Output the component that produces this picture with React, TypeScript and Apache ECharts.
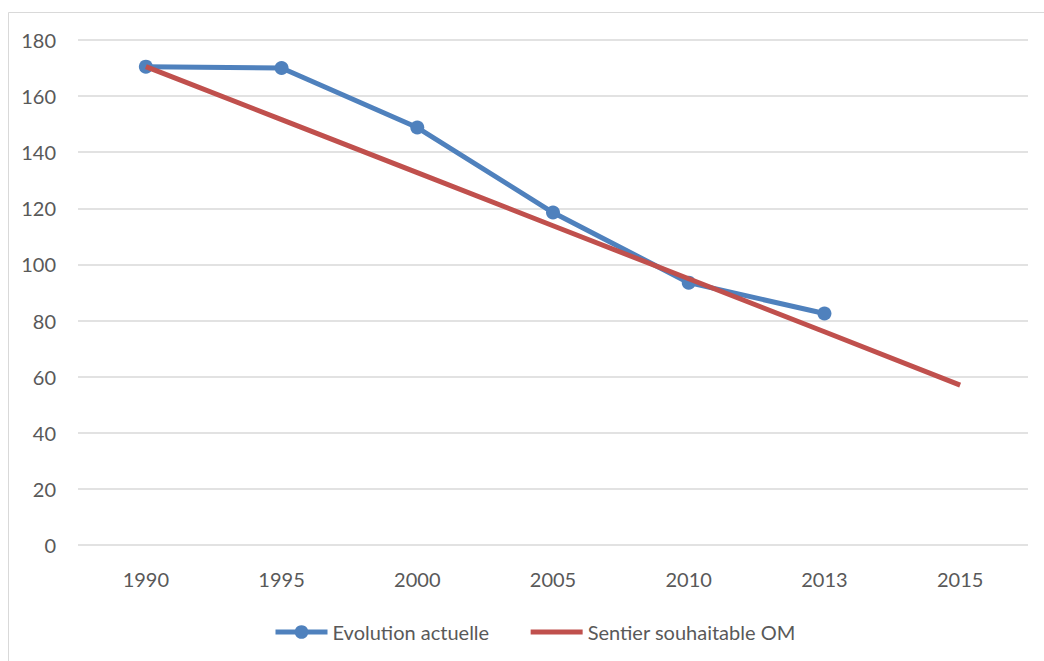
import React, { useEffect, useRef } from "react";
import * as echarts from "echarts";

const years = ["1990", "1995", "2000", "2005", "2010", "2013", "2015"];
const evolutionActuelle = [170.5, 170, 148.8, 118.5, 93.5, 82.5, null];
const sentierSouhaitable = [170.5, 151.6, 132.7, 113.8, 94.9, 76, 57];
const yTicks = { min: 0, max: 180, interval: 20 };

const FONT = "Lato, 'Open Sans', sans-serif";
const BLUE = "#4f81bd";
const RED = "#c0504d";

export default function App() {
  const ref = useRef<HTMLDivElement>(null);
  useEffect(() => {
    if (!ref.current) return;
    const chart = echarts.init(ref.current, null, { renderer: "svg" });
    chart.setOption({
      animation: false,
      backgroundColor: "#ffffff",
      graphic: [
        {
          type: "rect",
          shape: { x: 8.5, y: 12.5, width: 1100, height: 700 },
          style: { fill: "none", stroke: "#d9d9d9", lineWidth: 1 },
          silent: true,
          z: -10,
        },
      ],
      grid: { left: 78, right: 16, top: 40, bottom: 116, containLabel: false },
      legend: {
        top: 617,
        left: 268,
        itemWidth: 52,
        itemHeight: 17,
        itemGap: 39,
        textStyle: { color: "#595959", fontSize: 20, fontFamily: FONT },
        data: [
          {
            name: "Evolution actuelle",
            lineStyle: { color: BLUE, width: 5 },
            itemStyle: { color: BLUE },
          },
          {
            name: "Sentier souhaitable OM",
            lineStyle: { color: RED, width: 5 },
            itemStyle: { color: "rgba(0,0,0,0)", opacity: 0 },
          },
        ],
      },
      xAxis: {
        type: "category",
        data: years,
        boundaryGap: true,
        axisLine: { show: false },
        axisTick: { show: false },
        axisLabel: { color: "#595959", fontSize: 20, fontFamily: FONT, margin: 24 },
      },
      yAxis: {
        type: "value",
        min: yTicks.min,
        max: yTicks.max,
        interval: yTicks.interval,
        axisLine: { show: false },
        axisTick: { show: false },
        axisLabel: { color: "#595959", fontSize: 20, fontFamily: FONT, margin: 22 },
        splitLine: { lineStyle: { color: "#d9d9d9", width: 1.5 } },
      },
      series: [
        {
          name: "Evolution actuelle",
          type: "line",
          data: evolutionActuelle,
          symbol: "circle",
          symbolSize: 14,
          lineStyle: { color: BLUE, width: 5 },
          itemStyle: { color: BLUE },
          z: 2,
        },
        {
          name: "Sentier souhaitable OM",
          type: "line",
          data: sentierSouhaitable,
          symbol: "none",
          lineStyle: { color: RED, width: 5 },
          itemStyle: { color: RED },
          z: 3,
        },
      ],
    });
    return () => chart.dispose();
  }, []);
  return <div ref={ref} style={{ width: 1044, height: 661, position: "absolute", left: 0, top: 0 }} />;
}
